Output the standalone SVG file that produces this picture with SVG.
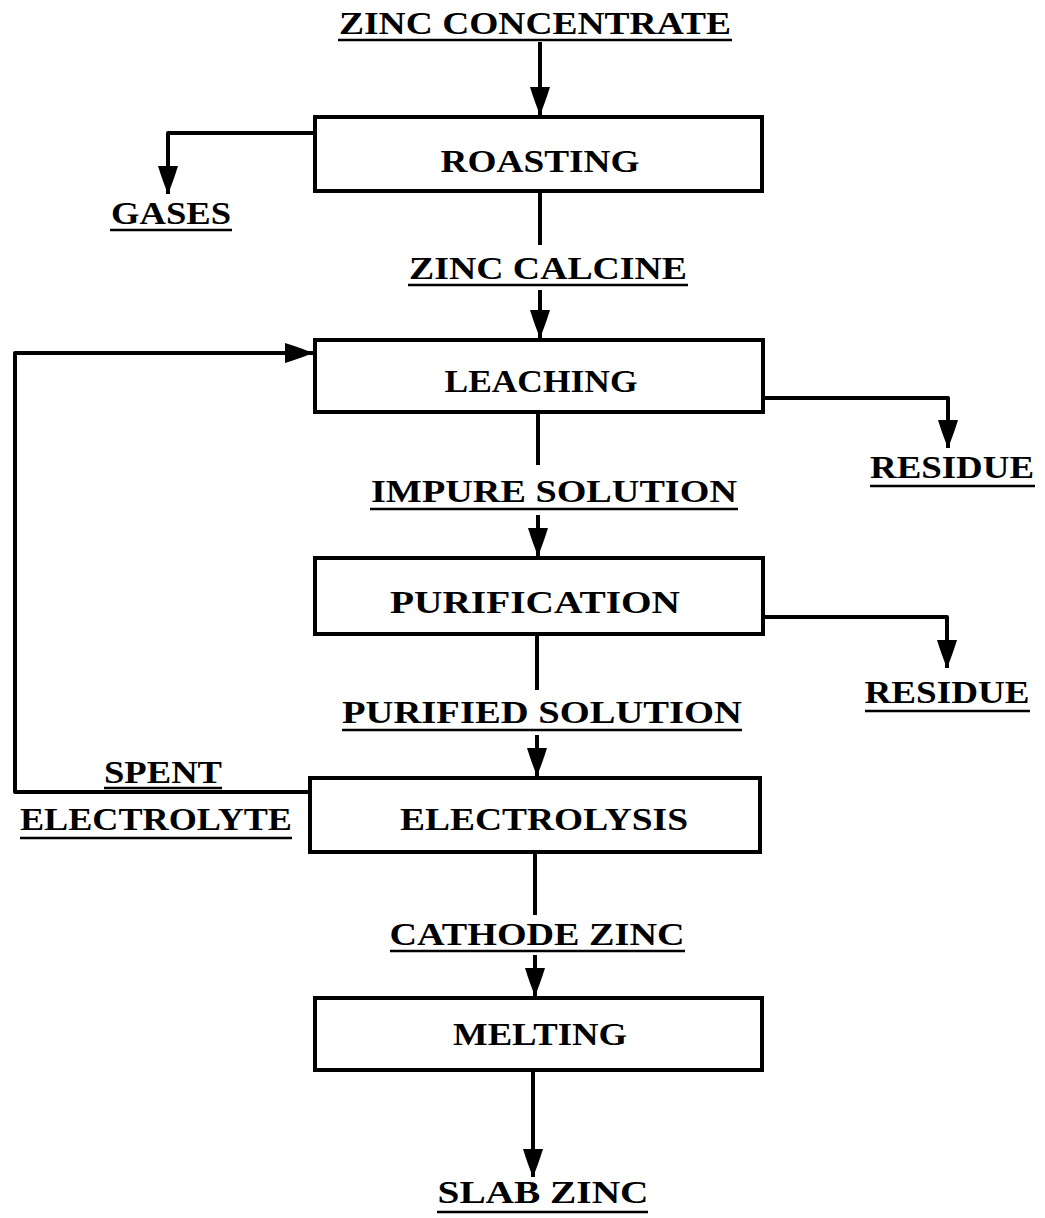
<svg xmlns="http://www.w3.org/2000/svg" width="1045" height="1218" viewBox="0 0 1045 1218">
<style>
.box{fill:#fff;stroke:#000;stroke-width:4}
.ln{fill:none;stroke:#000;stroke-width:4;stroke-linejoin:round}
.ul{fill:none;stroke:#000;stroke-width:2.5}
text{font-family:"Liberation Serif","DejaVu Serif",serif;font-weight:bold;font-size:31px;fill:#000;text-anchor:middle}
</style>
<defs>
<marker id="ah" markerUnits="userSpaceOnUse" markerWidth="32" markerHeight="24" viewBox="-30 -12 32 24" refX="0" refY="0" orient="auto">
<path d="M-28,-10 Q-12,-5 0,0 Q-12,5 -28,10 Z" fill="#000"/>
</marker>
</defs>
<rect width="1045" height="1218" fill="#fff"/>
<g id="connectors">
<path class="ln" d="M540,42 V115" marker-end="url(#ah)"/>
<path class="ln" d="M315,133 H168 V194" marker-end="url(#ah)"/>
<path class="ln" d="M540,192 V245"/>
<path class="ln" d="M540,290 V338" marker-end="url(#ah)"/>
<path class="ln" d="M310,792 H15 V353 H313" marker-end="url(#ah)"/>
<path class="ln" d="M763,398 H948 V448" marker-end="url(#ah)"/>
<path class="ln" d="M538,412 V465"/>
<path class="ln" d="M538,515 V556" marker-end="url(#ah)"/>
<path class="ln" d="M763,617 H947 V668" marker-end="url(#ah)"/>
<path class="ln" d="M537,635 V690"/>
<path class="ln" d="M537,735 V776" marker-end="url(#ah)"/>
<path class="ln" d="M535,852 V915"/>
<path class="ln" d="M535,955 V996" marker-end="url(#ah)"/>
<path class="ln" d="M533,1070 V1177" marker-end="url(#ah)"/>
</g>
<g id="zinc-concentrate"><text x="535" y="34" textLength="392" lengthAdjust="spacingAndGlyphs">ZINC CONCENTRATE</text><line class="ul" x1="338" y1="40" x2="732" y2="40"/></g>
<g id="roasting"><rect class="box" x="315" y="117" width="447" height="74"/><text x="540" y="172" textLength="199" lengthAdjust="spacingAndGlyphs">ROASTING</text></g>
<g id="gases"><text x="171" y="224" textLength="120" lengthAdjust="spacingAndGlyphs">GASES</text><line class="ul" x1="110" y1="230" x2="232" y2="230"/></g>
<g id="zinc-calcine"><text x="548" y="279" textLength="278" lengthAdjust="spacingAndGlyphs">ZINC CALCINE</text><line class="ul" x1="408" y1="285" x2="688" y2="285"/></g>
<g id="leaching"><rect class="box" x="315" y="340" width="448" height="72"/><text x="541" y="392" textLength="193" lengthAdjust="spacingAndGlyphs">LEACHING</text></g>
<g id="residue-1"><text x="952" y="478" textLength="164" lengthAdjust="spacingAndGlyphs">RESIDUE</text><line class="ul" x1="870" y1="486" x2="1035" y2="486"/></g>
<g id="impure-solution"><text x="554" y="502" textLength="366" lengthAdjust="spacingAndGlyphs">IMPURE SOLUTION</text><line class="ul" x1="370" y1="509" x2="738" y2="509"/></g>
<g id="purification"><rect class="box" x="315" y="558" width="448" height="76"/><text x="535" y="613" textLength="290" lengthAdjust="spacingAndGlyphs">PURIFICATION</text></g>
<g id="residue-2"><text x="947" y="703" textLength="165" lengthAdjust="spacingAndGlyphs">RESIDUE</text><line class="ul" x1="865" y1="711" x2="1030" y2="711"/></g>
<g id="purified-solution"><text x="542" y="723" textLength="400" lengthAdjust="spacingAndGlyphs">PURIFIED SOLUTION</text><line class="ul" x1="342" y1="730" x2="742" y2="730"/></g>
<g id="spent-electrolyte"><text x="163" y="783" textLength="118" lengthAdjust="spacingAndGlyphs">SPENT</text><line class="ul" x1="104" y1="788" x2="222" y2="788"/><text x="156" y="830" textLength="272" lengthAdjust="spacingAndGlyphs">ELECTROLYTE</text><line class="ul" x1="20" y1="838" x2="292" y2="838"/></g>
<g id="electrolysis"><rect class="box" x="310" y="778" width="450" height="74"/><text x="544" y="830" textLength="288" lengthAdjust="spacingAndGlyphs">ELECTROLYSIS</text></g>
<g id="cathode-zinc"><text x="537" y="945" textLength="295" lengthAdjust="spacingAndGlyphs">CATHODE ZINC</text><line class="ul" x1="390" y1="951" x2="685" y2="951"/></g>
<g id="melting"><rect class="box" x="315" y="998" width="447" height="72"/><text x="540" y="1045" textLength="174" lengthAdjust="spacingAndGlyphs">MELTING</text></g>
<g id="slab-zinc"><text x="543" y="1203" textLength="211" lengthAdjust="spacingAndGlyphs">SLAB ZINC</text><line class="ul" x1="437" y1="1212" x2="648" y2="1212"/></g>
</svg>
